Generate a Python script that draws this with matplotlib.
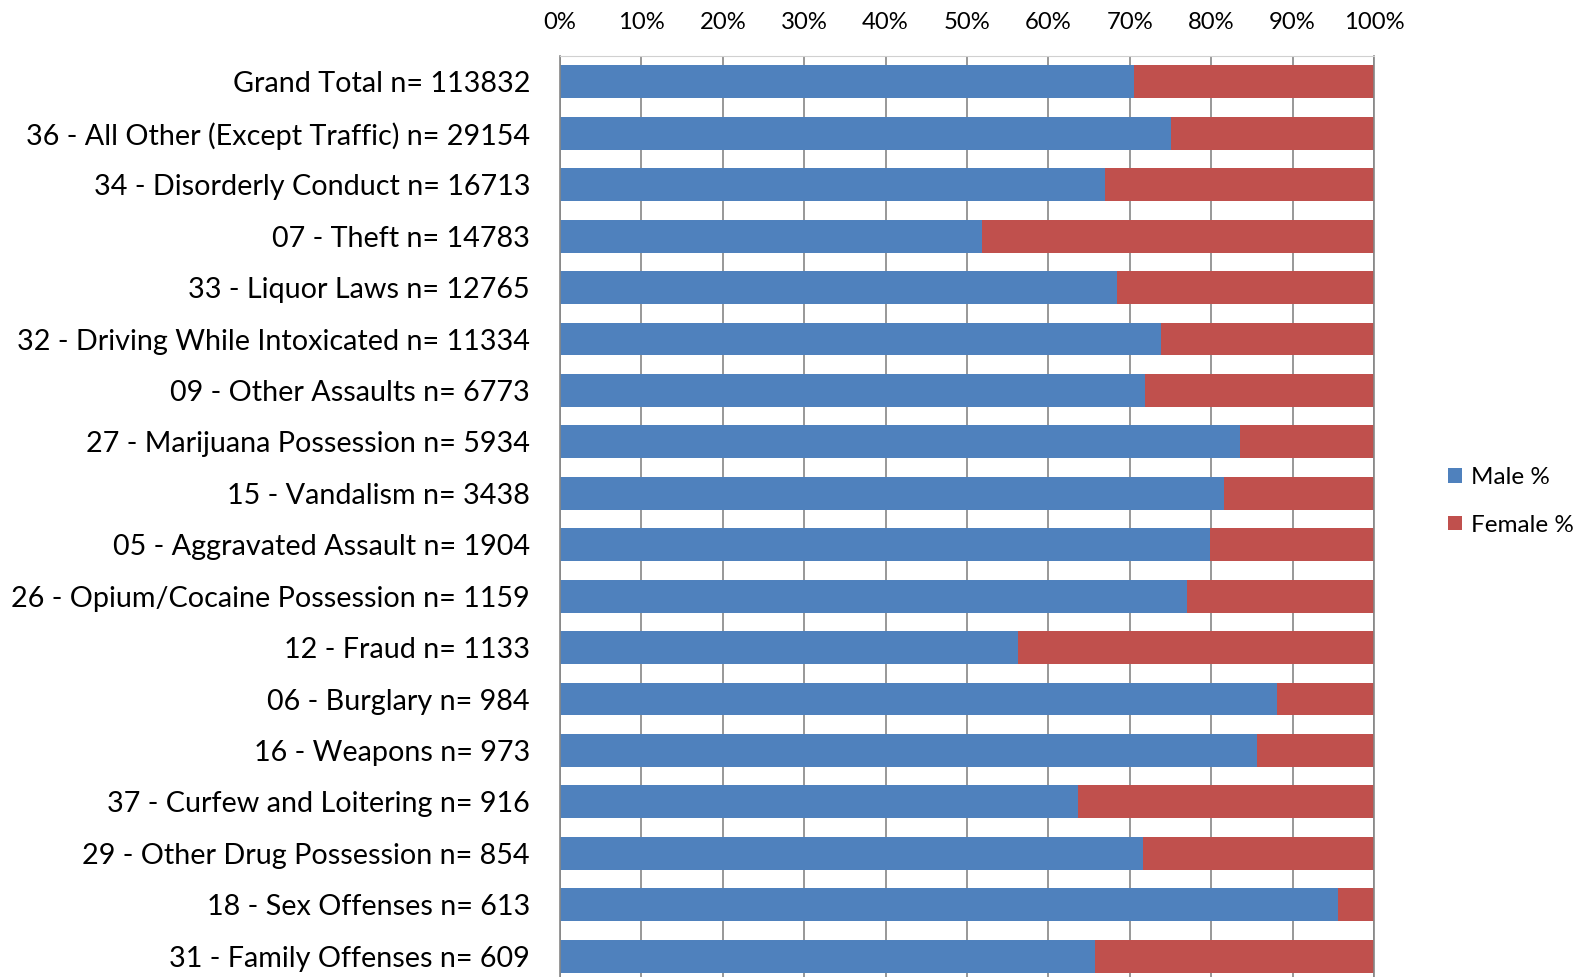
import numpy as np
import matplotlib.pyplot as plt
from matplotlib.patches import Patch
from matplotlib.ticker import PercentFormatter

# ------------------------------------------------------------------ DATA
categories = [
    'Grand Total n= 113832',
    '36 - All Other (Except Traffic) n= 29154',
    '34 - Disorderly Conduct n= 16713',
    '07 - Theft n= 14783',
    '33 - Liquor Laws n= 12765',
    '32 - Driving While Intoxicated n= 11334',
    '09 - Other Assaults n= 6773',
    '27 - Marijuana Possession n= 5934',
    '15 - Vandalism n= 3438',
    '05 - Aggravated Assault n= 1904',
    '26 - Opium/Cocaine Possession n= 1159',
    '12 - Fraud n= 1133',
    '06 - Burglary n= 984',
    '16 - Weapons n= 973',
    '37 - Curfew and Loitering n= 916',
    '29 - Other Drug Possession n= 854',
    '18 - Sex Offenses n= 613',
    '31 - Family Offenses n= 609',
]

male_pct = [70.5, 75.1, 66.9, 51.9, 68.4, 73.8, 71.9, 83.6, 81.6,
            79.8, 77.0, 56.3, 88.1, 85.6, 63.7, 71.6, 95.6, 65.7]
female_pct = [100 - m for m in male_pct]

# ------------------------------------------------------------------ STYLE
plt.rcParams['font.family'] = ['Lato', 'DejaVu Sans']
male_color = '#4f81bd'
female_color = '#c0504d'
grid_color = '#868686'

fig = plt.figure(figsize=(15.76, 9.77), dpi=100)
fig.patch.set_facecolor('white')
# axes run slightly past the bottom edge, as in the original export
ax = fig.add_axes([0.3553, -0.005, 0.5165, 0.9475])

y = np.arange(len(categories))
ax.barh(y, male_pct, height=0.64, color=male_color, zorder=2)
ax.barh(y, female_pct, left=male_pct, height=0.64, color=female_color,
        zorder=2)

ax.set_xlim(0, 100)
ax.set_ylim(len(categories) - 0.5, -0.5)
ax.set_yticks(y)
ax.set_yticklabels(categories, fontsize=20.7)
ax.xaxis.tick_top()
ax.set_xticks(np.arange(0, 101, 10))
ax.xaxis.set_major_formatter(PercentFormatter(decimals=0))
ax.tick_params(axis='x', labelsize=17.2, length=0, pad=17)
ax.tick_params(axis='y', length=0, pad=21.5)

ax.grid(axis='x', color=grid_color, linewidth=1.2, zorder=0)
for side in ['left', 'right']:
    ax.spines[side].set_color(grid_color)
    ax.spines[side].set_linewidth(1.2)
ax.spines['top'].set_color('#d0d0d0')
ax.spines['bottom'].set_visible(False)

# Legend
handles = [Patch(facecolor=male_color, label='Male %'),
           Patch(facecolor=female_color, label='Female %')]
fig.legend(handles=handles, loc='center left',
           bbox_to_anchor=(0.905, 0.487), frameon=False, fontsize=17.5,
           handlelength=0.55, handleheight=0.55, handletextpad=0.4,
           labelspacing=1.1)

plt.savefig('out.png', dpi=100)
